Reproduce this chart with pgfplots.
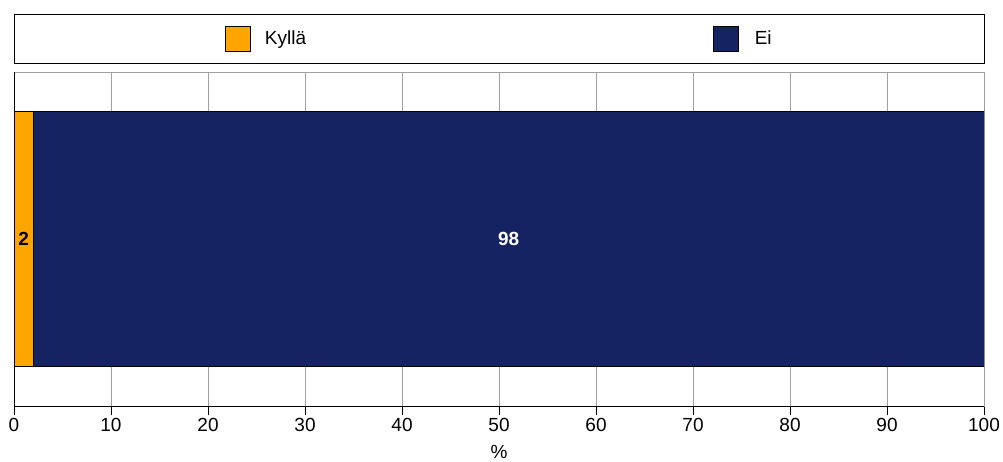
\documentclass[border=0pt]{standalone}
\usepackage{pgfplots}
\pgfplotsset{compat=1.18}
\usepackage{fontspec}
\setmainfont{Liberation Sans}
\definecolor{kylla}{RGB}{255,165,0}
\definecolor{ei}{RGB}{22,35,98}
\definecolor{gridc}{RGB}{160,160,160}
\begin{document}
\begin{tikzpicture}[x=1pt,y=1pt]
\begin{axis}[
  at={(14pt,55pt)}, anchor=south west,
  scale only axis, width=970pt, height=334pt,
  xmin=0, xmax=100, ymin=0, ymax=1,
  xbar stacked, bar width=255pt,
  xtick={0,10,...,100}, ytick=\empty,
  xtick pos=bottom, tick align=outside,
  major tick length=9pt,
  every tick/.style={black, line width=0.8pt},
  xmajorgrids, grid style={gridc, line width=0.8pt},
  axis line style={gridc, line width=0.8pt},
  tick label style={font=\fontsize{19}{22}\selectfont},
  /pgf/number format/assume math mode=true,
  xlabel={\%}, xlabel style={font=\fontsize{19}{22}\selectfont, yshift=-6pt},
  legend columns=2,
  legend style={draw=none, fill=none, at={(0.2175,1.1003)}, anchor=west,
    inner sep=0pt, font=\fontsize{19}{22}\selectfont,
    /tikz/every even column/.append style={column sep=0pt}},
  legend image code/.code={\draw[#1, line width=0.8pt] (0pt,-12.5pt) rectangle (25pt,12.5pt);},
  nodes near coords,
  every node near coord/.append style={font=\fontsize{19}{22}\selectfont\bfseries},
]
\addplot[fill=kylla, draw=black, line width=0.8pt,
  every node near coord/.append style={text=black}] coordinates {(2,0.5)};
\addlegendentry{\makebox[458pt][l]{\hspace{12pt}Kyllä}}
\addplot[fill=ei, draw=black, line width=0.8pt,
  every node near coord/.append style={text=white}] coordinates {(98,0.5)};
\addlegendentry{\hspace{14pt}Ei}
\draw[black, line width=0.8pt] (rel axis cs:0,1) -- (rel axis cs:0,0) -- (rel axis cs:1,0);
\end{axis}
\draw[black, line width=0.8pt] (14,398) rectangle (984,447);
\pgfresetboundingbox
\path (0,0) rectangle (1003,461);
\end{tikzpicture}
\end{document}
